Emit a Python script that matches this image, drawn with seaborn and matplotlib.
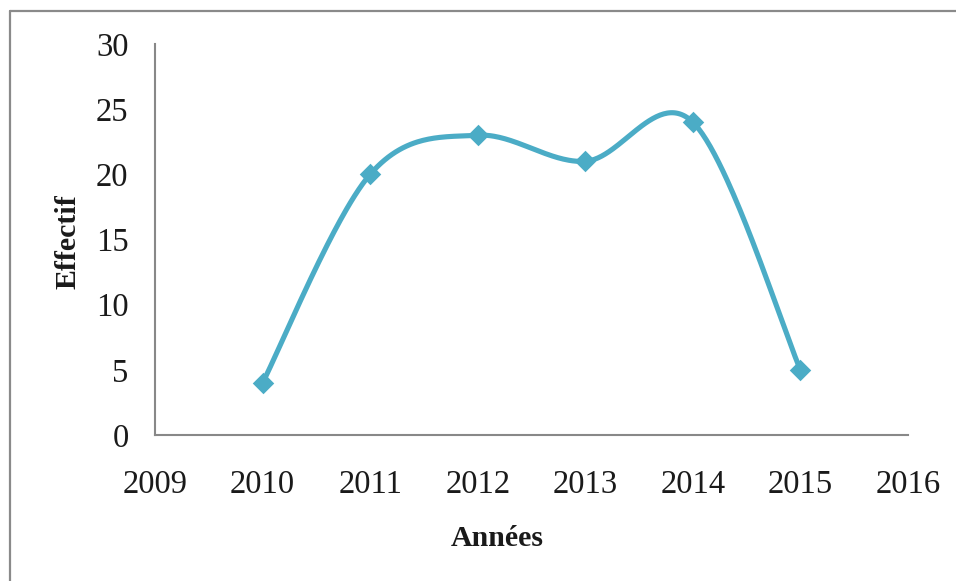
import numpy as np
import matplotlib
matplotlib.use("Agg")
import matplotlib.pyplot as plt
from matplotlib.lines import Line2D
import seaborn as sns

# Effectif par année
annees = [2010, 2011, 2012, 2013, 2014, 2015]
effectif = [4, 20, 23, 21, 24, 5]
x_ticks = [2009, 2010, 2011, 2012, 2013, 2014, 2015, 2016]
y_ticks = [0, 5, 10, 15, 20, 25, 30]

sns.set_style("white")
plt.rcParams["font.family"] = ["Liberation Serif", "DejaVu Serif"]

W, H = 956, 581
fig = plt.figure(figsize=(W / 100, H / 100), dpi=100)
ax = fig.add_axes([155 / W, 1 - 435 / H, (908 - 155) / W, (435 - 44) / H])

color = "#4BACC6"


def smooth_curve(xs, ys, n=60):
    """Catmull-Rom style smoothed line through the points (like a spreadsheet's smoothed line)."""
    pts = np.column_stack([xs, ys]).astype(float)
    ext = np.vstack([pts[0], pts, pts[-1]])
    out = []
    t = np.linspace(0, 1, n)[:, None]
    for i in range(1, len(ext) - 2):
        p0, p1, p2, p3 = ext[i - 1], ext[i], ext[i + 1], ext[i + 2]
        c1 = p1 + (p2 - p0) / 6
        c2 = p2 - (p3 - p1) / 6
        seg = ((1 - t) ** 3) * p1 + 3 * ((1 - t) ** 2) * t * c1 + 3 * (1 - t) * t ** 2 * c2 + t ** 3 * p2
        out.append(seg if i == 1 else seg[1:])
    out = np.vstack(out)
    return out[:, 0], out[:, 1]


sx, sy = smooth_curve(annees, effectif)
ax.plot(sx, sy, color=color, lw=3.7, solid_capstyle="round", zorder=2)
sns.scatterplot(x=annees, y=effectif, marker="D", s=120, color=color,
                edgecolor=color, linewidth=0, ax=ax, zorder=3, legend=False)

ax.set_xlim(2009, 2016)
ax.set_ylim(0, 30)
ax.set_xticks(x_ticks)
ax.set_xticklabels([str(v) for v in x_ticks])
ax.set_yticks(y_ticks)
ax.set_yticklabels([str(v) for v in y_ticks])
ax.tick_params(axis="both", length=0, labelsize=23.5, colors="#1a1a1a")
ax.tick_params(axis="x", pad=25)
ax.tick_params(axis="y", pad=19)

for side in ["top", "right"]:
    ax.spines[side].set_visible(False)
for side in ["left", "bottom"]:
    ax.spines[side].set_color("#888888")
    ax.spines[side].set_linewidth(1.5)

fig.text(497 / W, 1 - 538 / H, "Années", ha="center", va="center",
         fontsize=21.5, fontweight="bold", color="#1a1a1a")
fig.text(68 / W, 1 - 242 / H, "Effectif", ha="center", va="center",
         rotation=90, fontsize=21.5, fontweight="bold", color="#1a1a1a")

# Frame lines along the top and left edges
fig.add_artist(Line2D([9.5 / W, 1.0], [1 - 10.5 / H, 1 - 10.5 / H],
                      transform=fig.transFigure, color="#8a8a8a", lw=1.6))
fig.add_artist(Line2D([9.5 / W, 9.5 / W], [0, 1 - 10.5 / H],
                      transform=fig.transFigure, color="#8a8a8a", lw=1.6))

fig.savefig("out.png", dpi=100, facecolor="white")
